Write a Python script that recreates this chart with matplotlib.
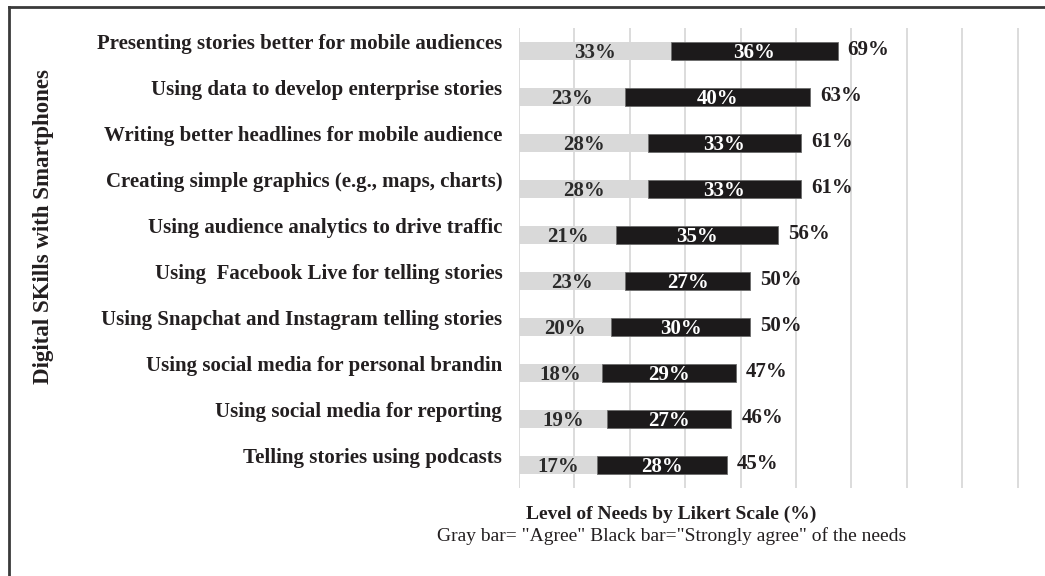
import matplotlib.pyplot as plt
from matplotlib.lines import Line2D
from matplotlib.transforms import ScaledTranslation
import numpy as np

categories = [
    "Presenting stories better for mobile audiences",
    "Using data to develop enterprise stories",
    "Writing better headlines for mobile audience",
    "Creating simple graphics (e.g., maps, charts)",
    "Using audience analytics to drive traffic",
    "Using  Facebook Live for telling stories",
    "Using Snapchat and Instagram telling stories",
    "Using social media for personal brandin",
    "Using social media for reporting",
    "Telling stories using podcasts",
]
agree = [33, 23, 28, 28, 21, 23, 20, 18, 19, 17]
strongly_agree = [36, 40, 33, 33, 35, 27, 30, 29, 27, 28]
totals = [69, 63, 61, 61, 56, 50, 50, 47, 46, 45]

plt.rcParams['font.family'] = ['Liberation Serif', 'DejaVu Serif']
text_color = '#231f20'

fig = plt.figure(figsize=(10.45, 5.76), dpi=100)
ax = fig.add_axes([519 / 1045, 1 - 488 / 576, 1 - 519 / 1045, 460 / 576])

y = np.arange(len(categories))
bar_h = 0.38
ax.barh(y, agree, height=bar_h, color='#d9d9d9', edgecolor='none', zorder=2)
ax.barh(y, strongly_agree, left=agree, height=bar_h, color='#1c1a1b',
        edgecolor='#6b6b6b', linewidth=0.6, zorder=2)

for i in range(len(categories)):
    ax.text(agree[i] / 2, y[i] + 0.05, f"{agree[i]}%", ha='center', va='center',
            fontsize=15, fontweight='bold', color='#2a2a2a', zorder=3)
    ax.text(agree[i] + strongly_agree[i] / 2, y[i] + 0.05, f"{strongly_agree[i]}%",
            ha='center', va='center', fontsize=15, fontweight='bold',
            color='white', zorder=3)
    ax.text(totals[i] + 2.2, y[i] - 0.02, f"{totals[i]}%", ha='left', va='center',
            fontsize=15, fontweight='bold', color=text_color, zorder=3)

ax.set_xlim(0, 526 / 4.617)
ax.set_ylim(len(categories) - 0.5, -0.5)
ax.set_xticks(np.arange(0, 109, 12))
ax.tick_params(axis='x', length=0, labelbottom=False)
ax.grid(axis='x', color='#d9d9d9', linewidth=1.3, zorder=0)
ax.set_axisbelow(True)
for s in ax.spines.values():
    s.set_visible(False)

ax.set_yticks(y)
ax.set_yticklabels(categories, fontsize=15, fontweight='bold', color=text_color)
ax.tick_params(axis='y', length=0, pad=12)
shift = ScaledTranslation(0, 9 / 100, fig.dpi_scale_trans)
for lbl in ax.get_yticklabels():
    lbl.set_transform(lbl.get_transform() + shift)

fig.text(44 / 1045, 1 - 227 / 576, "Digital SKills with Smartphones", rotation=90,
         ha='center', va='center', fontsize=16.5, fontweight='bold', color=text_color)
fig.text(671 / 1045, 1 - 514 / 576, "Level of Needs by Likert Scale (%)",
         ha='center', va='center', fontsize=14, fontweight='bold', color=text_color)
fig.text(672 / 1045, 1 - 536 / 576,
         'Gray bar= "Agree" Black bar="Strongly agree" of the needs',
         ha='center', va='center', fontsize=14, color=text_color)

# outer frame (top and left edges)
fig.add_artist(Line2D([9 / 1045, 1.0], [1 - 7 / 576, 1 - 7 / 576],
                      transform=fig.transFigure, color='#3a3a3a', linewidth=2))
fig.add_artist(Line2D([9 / 1045, 9 / 1045], [0, 1 - 7 / 576],
                      transform=fig.transFigure, color='#3a3a3a', linewidth=2))

fig.savefig('out.png', dpi=100, facecolor='white')
